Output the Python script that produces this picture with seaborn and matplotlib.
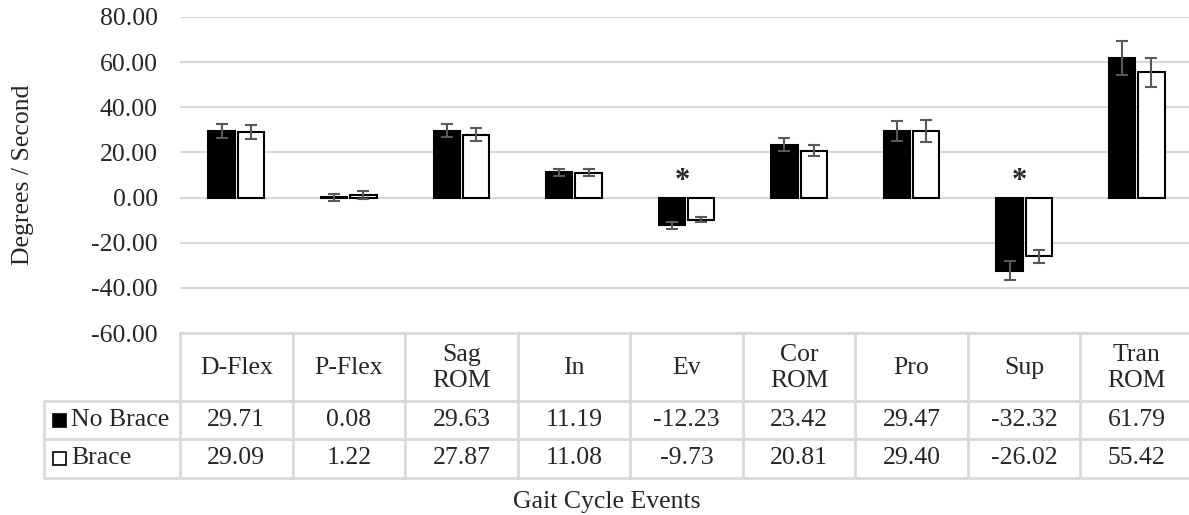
# Gait cycle events: angular velocity by group (bar chart + Excel-style data table)

import pandas as pd
import numpy as np

import matplotlib
matplotlib.use("Agg")
import matplotlib.pyplot as plt
from matplotlib.patches import Rectangle
import seaborn as sns

# ==========================
# Data
# ==========================

events = ["D-Flex", "P-Flex", "Sag\nROM", "In", "Ev", "Cor\nROM", "Pro", "Sup", "Tran\nROM"]
groups = ["No Brace", "Brace"]

no_brace = [29.71, 0.08, 29.63, 11.19, -12.23, 23.42, 29.47, -32.32, 61.79]
brace = [29.09, 1.22, 27.87, 11.08, -9.73, 20.81, 29.40, -26.02, 55.42]

# error bar half-lengths
no_brace_err = [3.1, 1.7, 3.0, 1.6, 1.6, 2.9, 4.6, 4.0, 7.7]
brace_err = [3.0, 1.9, 2.8, 1.5, 1.2, 2.5, 4.9, 3.0, 6.5]

significant = ["Ev", "Sup"]

y_ticks = [-60, -40, -20, 0, 20, 40, 60, 80]

# ==========================
# Style
# ==========================

sns.set_theme(style="white")
plt.rcParams["font.family"] = ["Liberation Serif", "DejaVu Serif"]
FS = 18.5
GRID = "#d9d9d9"
ERR = "#595959"

W, H = 1189, 515
fig = plt.figure(figsize=(W / 100, H / 100), dpi=100)

# main plot area (right end runs past the figure edge like the original)
ax = fig.add_axes([180 / W, (H - 333) / H, 1013 / W, 316 / H])

df = pd.DataFrame({
    "event": events * 2,
    "group": [groups[0]] * len(events) + [groups[1]] * len(events),
    "value": no_brace + brace,
})

sns.barplot(
    data=df, x="event", y="value", hue="group",
    order=events, hue_order=groups,
    palette={"No Brace": "black", "Brace": "white"},
    edgecolor="black", linewidth=1.5,
    width=0.52, gap=0.1, errorbar=None, legend=False, ax=ax,
)

# error bars on top of each bar
for cont, vals, errs in zip(ax.containers, [no_brace, brace], [no_brace_err, brace_err]):
    xs = [b.get_x() + b.get_width() / 2 for b in cont]
    ax.errorbar(xs, vals, yerr=errs, fmt="none", ecolor=ERR,
                elinewidth=1.5, capsize=4.5, capthick=1.5, zorder=5)

# significance markers
for ev in significant:
    i = events.index(ev)
    top = max(no_brace[i], brace[i], 0)
    ax.text(i - 0.04, top + 4, "*", ha="center", va="baseline",
            fontsize=22, fontweight="bold")

ax.set_xlim(-0.5, len(events) - 0.5)
ax.set_ylim(-60, 80)
ax.set_yticks(y_ticks)
ax.set_yticklabels([f"{t:.2f}" for t in y_ticks], fontsize=FS)
ax.tick_params(axis="y", length=0, pad=16)
ax.set_xticks([])
ax.set_xlabel("")
ax.set_ylabel("")
ax.yaxis.grid(True, color=GRID, linewidth=1.5)
ax.set_axisbelow(True)
for s in ax.spines.values():
    s.set_visible(False)

# ==========================
# Data table under the plot
# ==========================

tax = fig.add_axes([0, 0, 1, 1], zorder=-1)
tax.set_xlim(0, W)
tax.set_ylim(H, 0)
tax.axis("off")
tax.patch.set_alpha(0)

edges = ax.transData.transform([(i - 0.5, 0) for i in range(len(events) + 1)])[:, 0]
centers = (edges[:-1] + edges[1:]) / 2
left = 44
r_top, r_head, r_mid, r_bot = 333, 401, 439, 478

kw = dict(color=GRID, linewidth=2, clip_on=False)
tax.plot([edges[0], edges[-1]], [r_top, r_top], **kw)
for y in [r_head, r_mid, r_bot]:
    tax.plot([left, edges[-1]], [y, y], **kw)
for x in edges:
    tax.plot([x, x], [r_top, r_bot], **kw)
tax.plot([left, left], [r_head, r_bot], **kw)

for cx, ev, a, b in zip(centers, events, no_brace, brace):
    tax.text(cx, (r_top + r_head) / 2 + 1, ev, ha="center", va="center",
             multialignment="center", fontsize=FS, linespacing=1.2)
    tax.text(cx, (r_head + r_mid) / 2, f"{a:.2f}", ha="center", va="center", fontsize=FS)
    tax.text(cx, (r_mid + r_bot) / 2, f"{b:.2f}", ha="center", va="center", fontsize=FS)

for (y0, y1), name, face in [((r_head, r_mid), "No Brace", "black"),
                             ((r_mid, r_bot), "Brace", "white")]:
    yc = (y0 + y1) / 2
    tax.add_patch(Rectangle((53, yc - 6.5), 13, 13, facecolor=face,
                            edgecolor="black", linewidth=1.2))
    tax.text(71, yc, name, ha="left", va="center", fontsize=FS)

# axis titles
tax.text(607, 502, "Gait Cycle Events", ha="center", va="center", fontsize=FS)
tax.text(23, 175, "Degrees / Second", ha="center", va="center",
         rotation=90, fontsize=FS)

fig.savefig("out.png", dpi=100)
